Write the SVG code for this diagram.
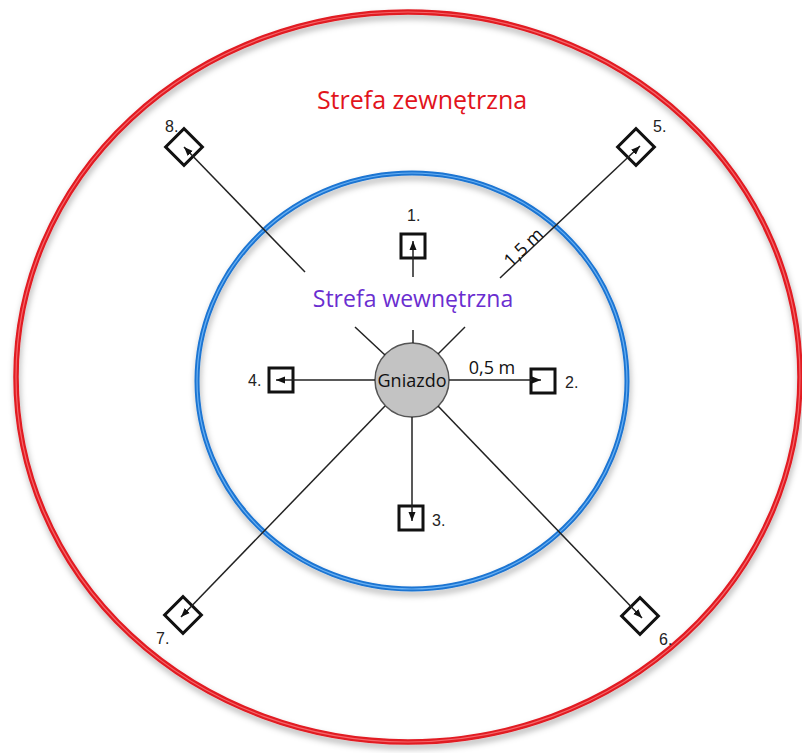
<svg xmlns="http://www.w3.org/2000/svg" width="802" height="753" viewBox="0 0 802 753">
<defs>
<filter id="sh" x="-10%" y="-10%" width="120%" height="120%">
<feDropShadow dx="1" dy="4" stdDeviation="3" flood-color="#000" flood-opacity="0.3"/>
</filter>
<marker id="ah" markerUnits="userSpaceOnUse" markerWidth="10" markerHeight="8" refX="9" refY="4" orient="auto">
<path d="M0,0.5 L9,4 L0,7.5 Z" fill="#111"/>
</marker>
</defs>
<style>
.ln{stroke:#222;stroke-width:1.5;fill:none}
.box{fill:none;stroke:#111;stroke-width:3}
.num{font-family:"Liberation Sans",Arial,sans-serif;font-size:16px;fill:#222}
.dim{font-family:"Open Sans","Liberation Sans",sans-serif;font-size:18px;fill:#111}
</style>
<rect width="802" height="753" fill="#fff"/>
<g id="outer-zone">
<ellipse cx="408" cy="377" rx="392" ry="365" fill="none" stroke="#e11a22" stroke-width="5.5" filter="url(#sh)"/>
<ellipse cx="408" cy="377" rx="392" ry="365" fill="none" stroke="#f4666b" stroke-width="1.2"/>
<text x="422" y="109" text-anchor="middle" font-family="'Open Sans','Liberation Sans',sans-serif" font-size="25" fill="#e2141c">Strefa zewnętrzna</text>
</g>
<g id="inner-zone">
<ellipse cx="412" cy="381" rx="215" ry="208" fill="none" stroke="#1b74d2" stroke-width="5" filter="url(#sh)"/>
<ellipse cx="412" cy="381" rx="215" ry="208" fill="none" stroke="#6ab0f2" stroke-width="1.2"/>
<text x="413" y="307" text-anchor="middle" font-family="'Open Sans','Liberation Sans',sans-serif" font-size="23" fill="#6a2ed0">Strefa wewnętrzna</text>
</g>
<g id="nest">
<circle cx="412" cy="380" r="37" fill="#c3c3c3" stroke="#555" stroke-width="1.5"/>
<text x="412" y="387" text-anchor="middle" font-family="'Open Sans','Liberation Sans',sans-serif" font-size="18" fill="#111">Gniazdo</text>
</g>
<g id="p1">
<rect class="box" x="401" y="234" width="24" height="24"/>
<text class="num" x="407" y="221">1.</text>
</g>
<g id="p2">
<rect class="box" x="531" y="369" width="24" height="24"/>
<text class="num" x="565" y="388">2.</text>
</g>
<g id="p3">
<rect class="box" x="399" y="506" width="24" height="24"/>
<text class="num" x="432" y="526">3.</text>
</g>
<g id="p4">
<rect class="box" x="269" y="368" width="24" height="24"/>
<text class="num" x="248" y="386">4.</text>
</g>
<g id="p5">
<rect class="box" x="623" y="134" width="26" height="26" transform="rotate(45 636 147)"/>
<text class="num" x="653" y="132">5.</text>
</g>
<g id="p6">
<rect class="box" x="627" y="603" width="26" height="26" transform="rotate(45 640 616)"/>
<text class="num" x="659" y="645">6.</text>
</g>
<g id="p7">
<rect class="box" x="170" y="602" width="26" height="26" transform="rotate(45 183 615)"/>
<text class="num" x="156" y="644">7.</text>
</g>
<g id="p8">
<rect class="box" x="171" y="134" width="26" height="26" transform="rotate(45 184 147)"/>
<text class="num" x="165" y="132">8.</text>
</g>
<g id="connectors">
<line class="ln" x1="413" y1="277" x2="413" y2="241" marker-end="url(#ah)"/>
<line class="ln" x1="413" y1="330" x2="413" y2="343"/>
<line class="ln" x1="449" y1="380" x2="541" y2="380" marker-end="url(#ah)"/>
<line class="ln" x1="412" y1="417" x2="412" y2="521" marker-end="url(#ah)"/>
<line class="ln" x1="375" y1="380" x2="276" y2="380" marker-end="url(#ah)"/>
<line class="ln" x1="500" y1="278" x2="640" y2="146" marker-end="url(#ah)"/>
<line class="ln" x1="465" y1="327" x2="438" y2="354"/>
<line class="ln" x1="305" y1="272" x2="184" y2="147" marker-end="url(#ah)"/>
<line class="ln" x1="355" y1="327" x2="385" y2="355"/>
<line class="ln" x1="438" y1="406" x2="642" y2="618" marker-end="url(#ah)"/>
<line class="ln" x1="385" y1="406" x2="181" y2="617" marker-end="url(#ah)"/>
<text class="dim" x="492" y="374" text-anchor="middle">0,5 m</text>
<text class="dim" transform="translate(511,268) rotate(-44)">1,5 m</text>
</g>
</svg>
